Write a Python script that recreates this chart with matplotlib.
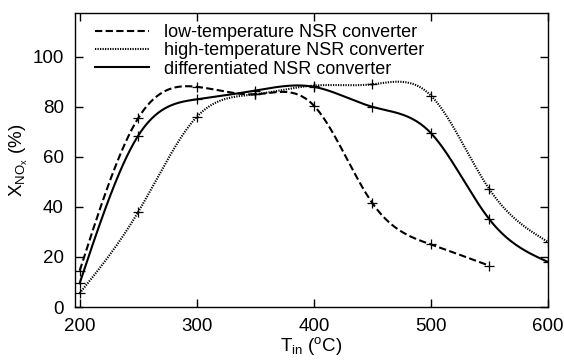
import numpy as np
import matplotlib
matplotlib.use("Agg")
import matplotlib.pyplot as plt

plt.rcParams["font.family"] = ["Liberation Sans", "DejaVu Sans"]
plt.rcParams["mathtext.fontset"] = "custom"
plt.rcParams["mathtext.rm"] = "Liberation Sans"
plt.rcParams["mathtext.it"] = "Liberation Sans"

# data
t_low = [200, 250, 300, 350, 400, 450, 500, 550]
x_low = [14.5, 75.5, 88, 85, 80.5, 41.5, 25, 16.5]

t_high = [200, 250, 300, 350, 400, 450, 500, 550, 600]
x_high = [5.5, 38, 76, 85, 88.5, 89, 84.5, 47, 26]

t_diff = [200, 250, 300, 350, 400, 450, 500, 550, 600]
x_diff = [9.5, 68.5, 83, 86.5, 88, 80, 69.5, 35, 18]

labels = ["low-temperature NSR converter",
          "high-temperature NSR converter",
          "differentiated NSR converter"]


def natural_spline(x, y, n=400):
    # natural cubic spline like gnuplot's "smooth csplines"
    x = np.asarray(x, float)
    y = np.asarray(y, float)
    k = len(x)
    h = np.diff(x)
    A = np.zeros((k, k))
    b = np.zeros(k)
    A[0, 0] = A[-1, -1] = 1
    for i in range(1, k - 1):
        A[i, i - 1] = h[i - 1]
        A[i, i] = 2 * (h[i - 1] + h[i])
        A[i, i + 1] = h[i]
        b[i] = 6 * ((y[i + 1] - y[i]) / h[i] - (y[i] - y[i - 1]) / h[i - 1])
    M = np.linalg.solve(A, b)
    xs = np.linspace(x[0], x[-1], n)
    idx = np.clip(np.searchsorted(x, xs) - 1, 0, k - 2)
    x0, x1 = x[idx], x[idx + 1]
    hh = x1 - x0
    a = (x1 - xs) / hh
    c = (xs - x0) / hh
    ys = (a * y[idx] + c * y[idx + 1]
          + ((a ** 3 - a) * M[idx] + (c ** 3 - c) * M[idx + 1]) * hh ** 2 / 6)
    return xs, ys


fig = plt.figure(figsize=(5.64, 3.61), dpi=100)
ax = fig.add_axes([75 / 564, 1 - 307 / 361, 473 / 564, 294 / 361])

styles = [(0, (3.5, 1.6)), (0, (0.6, 0.6)), "-"]
series = [(t_low, x_low), (t_high, x_high), (t_diff, x_diff)]
for (t, v), ls, lab in zip(series, styles, labels):
    xs, ys = natural_spline(t, v)
    ax.plot(xs, ys, color="black", lw=1.5, ls=ls, label=lab)
    ax.plot(t, v, ls="none", marker="+", ms=7, mew=0.9, color="black")

ax.set_xlim(196, 600)
ax.set_ylim(0, 117.5)
ax.set_xticks([200, 300, 400, 500, 600])
ax.set_yticks([0, 20, 40, 60, 80, 100])
ax.tick_params(direction="in", length=6, width=1, top=True, right=True,
               labelsize=13.5)
ax.tick_params(axis="x", pad=8)
ax.tick_params(axis="y", pad=8)
for s in ax.spines.values():
    s.set_linewidth(1)

ax.set_xlabel(r"T$_{\mathrm{in}}$ ($^{\mathrm{o}}$C)", fontsize=13.5, labelpad=0)
ax.set_ylabel(r"X$_{\mathrm{NO}_{\mathrm{x}}}$ (%)", fontsize=13.5, labelpad=2)

ax.legend(loc="upper left", frameon=False, fontsize=13, handlelength=3.0,
          handletextpad=0.8, labelspacing=0.08, borderaxespad=0.2,
          bbox_to_anchor=(0.02, 1.0))

fig.savefig("out.png", dpi=100)
